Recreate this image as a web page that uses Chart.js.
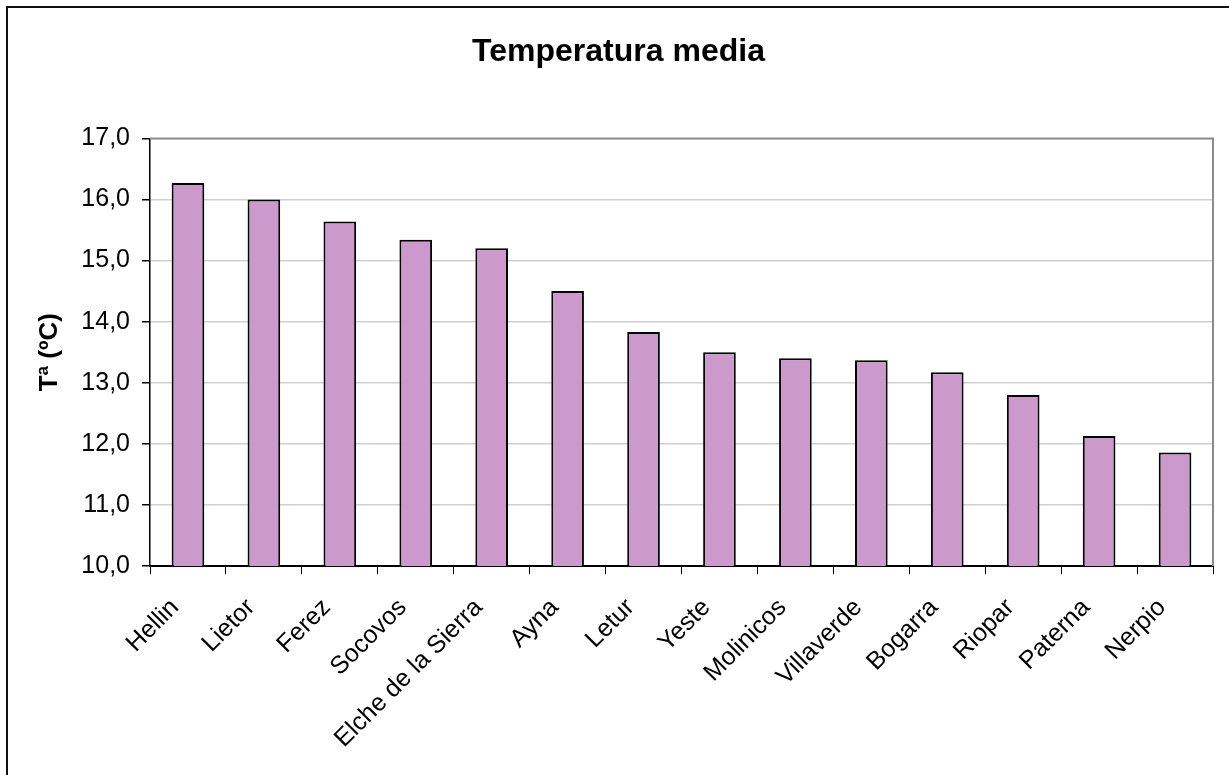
<!DOCTYPE html>
<html>
<head>
<meta charset="utf-8">
<script src="https://cdn.jsdelivr.net/npm/chart.js@4/dist/chart.umd.min.js"></script>
<style>
  html, body { margin: 0; padding: 0; background: #fff; overflow: hidden; }
  #wrap { position: relative; width: 1229px; height: 775px; }
  #frame { position: absolute; left: 6px; top: 6px; width: 1300px; height: 900px;
           border: 2px solid #111; pointer-events: none; }
</style>
</head>
<body>
<div id="wrap">
  <canvas id="myChart" width="1229" height="775"></canvas>
  <div id="frame"></div>
</div>
<script>
// Stations (x-axis categories)
var stations = ['Hellin', 'Lietor', 'Ferez', 'Socovos', 'Elche de la Sierra', 'Ayna', 'Letur',
                'Yeste', 'Molinicos', 'Villaverde', 'Bogarra', 'Riopar', 'Paterna', 'Nerpio'];

// Mean temperature per station, in ºC
var tempMedia = [16.27, 16.0, 15.64, 15.34, 15.2, 14.5, 13.83, 13.5, 13.4, 13.37, 13.17, 12.8, 12.13, 11.86];

// Y-axis range and step
var yMin = 10;
var yMax = 17;
var yStep = 1;

var fontFamily = 'Arial, "Liberation Sans", sans-serif';

// Grey frame on the top and right side of the plot area (Excel style)
var plotFrame = {
    id: 'plotFrame',
    beforeDatasetsDraw: function(chart) {
        var a = chart.chartArea, c = chart.ctx;
        c.save();
        c.strokeStyle = '#8c8c8c';
        c.lineWidth = 2;
        c.beginPath();
        c.moveTo(a.left, a.top);
        c.lineTo(a.right, a.top);
        c.lineTo(a.right, a.bottom);
        c.stroke();
        c.restore();
    }
};

var ctx = document.getElementById('myChart').getContext('2d');

var myChart = new Chart(ctx, {
    type: 'bar',
    data: {
        labels: stations,
        datasets: [{
            label: 'Temperatura media',
            data: tempMedia,
            backgroundColor: '#cc99cc',
            borderColor: '#000',
            borderWidth: 2,
            borderSkipped: false,
            barPercentage: 0.43,
            categoryPercentage: 1
        }]
    },
    options: {
        responsive: false,
        animation: false,
        layout: {
            // left padding pushes the title centre to the right like the original
            padding: { left: 24, right: 16, top: 0, bottom: 0 }
        },
        plugins: {
            legend: { display: false },
            tooltip: { enabled: false },
            title: {
                display: true,
                text: 'Temperatura media',
                color: '#000',
                font: { family: fontFamily, size: 32, weight: 'bold' },
                padding: { top: 33, bottom: 67 }
            }
        },
        scales: {
            x: {
                grid: {
                    drawOnChartArea: false,
                    drawTicks: true,
                    tickLength: 8,
                    tickColor: '#000',
                    offset: true
                },
                border: { color: '#000', width: 2 },
                ticks: {
                    color: '#000',
                    font: { family: fontFamily, size: 25 },
                    minRotation: 45,
                    maxRotation: 45,
                    autoSkip: false,
                    padding: 19,
                    labelOffset: -13
                },
                afterFit: function(scale) {
                    scale.height = 209;  // room below the axis for the slanted names
                }
            },
            y: {
                min: yMin,
                max: yMax,
                grid: {
                    color: '#d0d0d0',
                    lineWidth: 1.5,
                    tickLength: 8,
                    tickColor: '#000'
                },
                border: { color: '#000', width: 1.5 },
                ticks: {
                    stepSize: yStep,
                    color: '#000',
                    padding: 12,
                    font: { family: fontFamily, size: 25 },
                    callback: function(value) {
                        return value.toFixed(1).replace('.', ',');  // decimal comma
                    }
                },
                title: {
                    display: true,
                    text: 'Tª (ºC)',
                    color: '#000',
                    font: { family: fontFamily, size: 26, weight: 'bold' },
                    padding: { top: 10, bottom: 0 }
                },
                afterFit: function(scale) {
                    scale.width = 126;
                }
            }
        }
    },
    plugins: [plotFrame]
});
</script>
</body>
</html>
